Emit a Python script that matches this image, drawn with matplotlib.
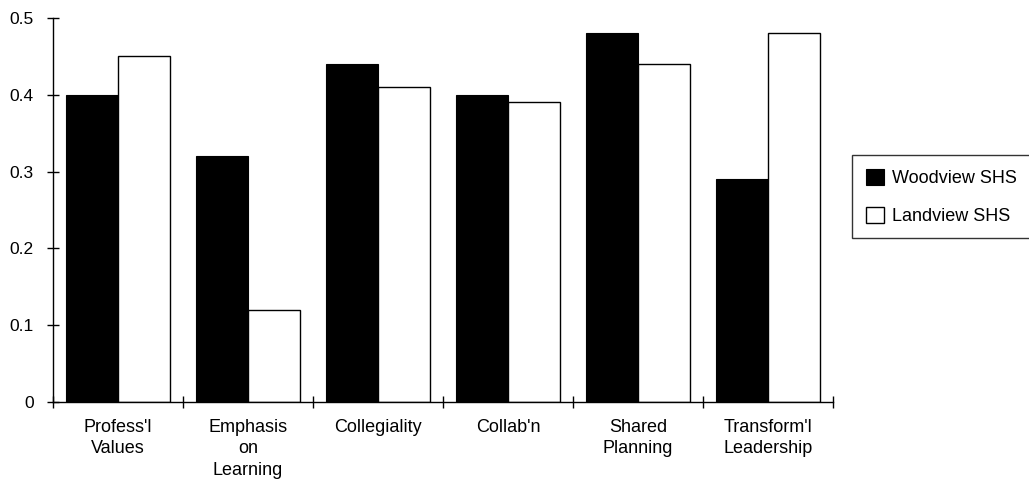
import matplotlib
matplotlib.use("Agg")
import matplotlib.pyplot as plt
import numpy as np

categories = ["Profess'l\nValues", "Emphasis\non\nLearning", "Collegiality",
              "Collab'n", "Shared\nPlanning", "Transform'l\nLeadership"]
woodview = [0.40, 0.32, 0.44, 0.40, 0.48, 0.29]
landview = [0.45, 0.12, 0.41, 0.39, 0.44, 0.48]
series_names = ["Woodview SHS", "Landview SHS"]
yticks = [0, 0.1, 0.2, 0.3, 0.4, 0.5]
ytick_labels = ["0", "0.1", "0.2", "0.3", "0.4", "0.5"]

plt.rcParams['font.family'] = ['Liberation Sans', 'DejaVu Sans']

fig = plt.figure(figsize=(10.29, 4.84), dpi=100)
ax = fig.add_axes([53 / 1029, 1 - 402 / 484, (833 - 53) / 1029, (402 - 18) / 484])

x = np.arange(len(categories))
w = 0.4
ax.bar(x - w / 2, woodview, w, color="black", edgecolor="black", linewidth=0.8,
       label=series_names[0])
ax.bar(x + w / 2, landview, w, color="white", edgecolor="black", linewidth=1.0,
       label=series_names[1])

ax.set_xlim(-0.5, len(categories) - 0.5)
ax.set_ylim(0, 0.5)

for s in ("top", "right"):
    ax.spines[s].set_visible(False)
for s in ("left", "bottom"):
    ax.spines[s].set_linewidth(1.0)

ax.set_yticks(yticks, ytick_labels)
ax.tick_params(axis="y", direction="inout", length=8, width=1.0, labelsize=12.5, pad=10)

ax.set_xticks(x, categories)
ax.tick_params(axis="x", which="major", length=0, labelsize=13, pad=12)
ax.set_xticks(np.arange(len(categories) + 1) - 0.5, minor=True)
ax.tick_params(axis="x", which="minor", direction="inout", length=8, width=1.0)
for lbl in ax.get_xticklabels():
    lbl.set_linespacing(1.35)
    lbl.set_va("top")

leg = fig.legend(loc="upper left", bbox_to_anchor=(852 / 1029, 1 - 155 / 484),
                 frameon=True, fancybox=False, edgecolor="black", fontsize=13,
                 handlelength=1.0, handleheight=1.0, handletextpad=0.45,
                 borderpad=0.75, labelspacing=1.1, borderaxespad=0)
leg.get_frame().set_linewidth(1.0)

fig.savefig("out.png", dpi=100, facecolor="white")
